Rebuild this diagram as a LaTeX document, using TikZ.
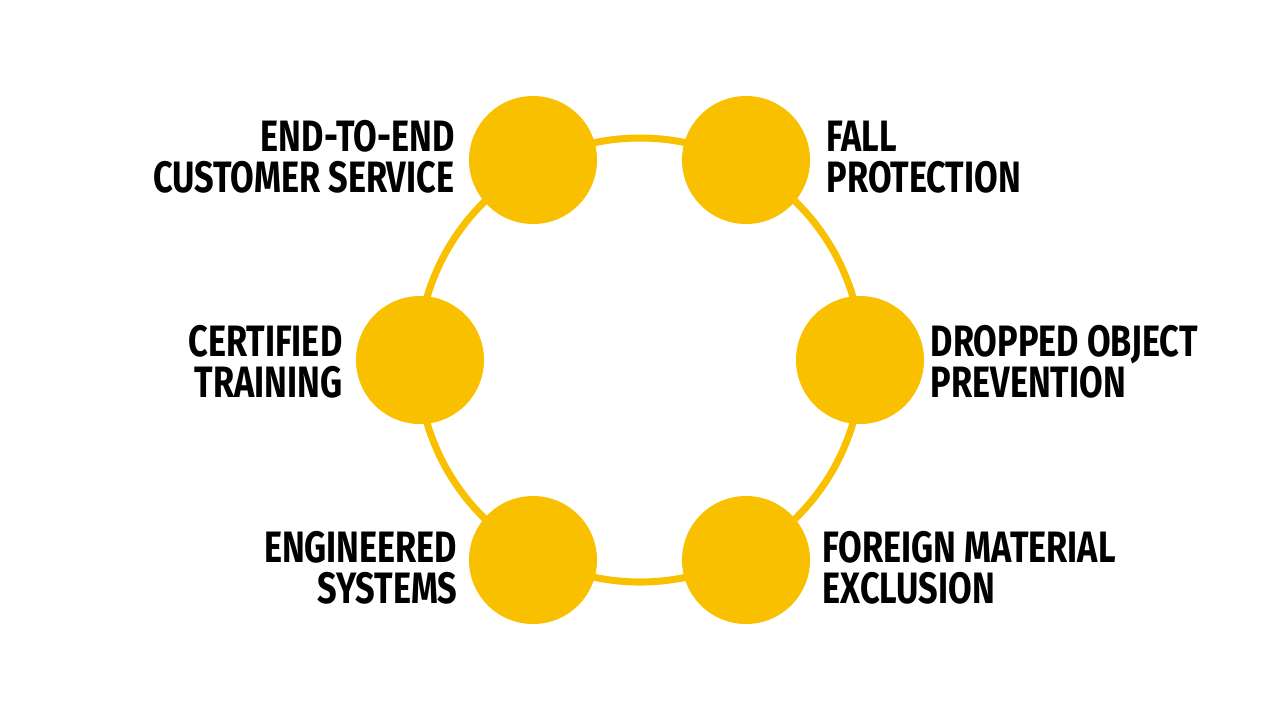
\documentclass[tikz,border=0pt]{standalone}
\usepackage{fontspec}
\setmainfont{Fira Sans}[UprightFont={* Bold},FakeStretch=0.78]
\definecolor{gold}{HTML}{F9C000}
\begin{document}
\begin{tikzpicture}[x=0.01cm,y=-0.01cm,
  dot/.style={circle,fill=gold,minimum size=128*0.01cm,inner sep=0pt},
  lab/.style={font=\fontsize{12.5}{11.6}\selectfont,inner sep=0pt,align=#1},
]
\useasboundingbox (0,0) rectangle (1280,720);
\draw[gold,line width=2pt] (640,360) circle (222*0.01cm);
\node[dot] (a) at (533,160) {};
\node[dot] (b) at (746,160) {};
\node[dot] (c) at (420,360) {};
\node[dot] (d) at (860,360) {};
\node[dot] (e) at (533,560) {};
\node[dot] (f) at (746,560) {};
\node[lab=right,anchor=east] (ta) at (455,157) {END-TO-END\\CUSTOMER SERVICE};
\node[lab=left,anchor=west] (tb) at (826,157) {FALL\\PROTECTION};
\node[lab=right,anchor=east] (tc) at (343,362) {CERTIFIED\\TRAINING};
\node[lab=left,anchor=west] (td) at (930,362) {DROPPED OBJECT\\PREVENTION};
\node[lab=right,anchor=east] (te) at (458,568) {ENGINEERED\\SYSTEMS};
\node[lab=left,anchor=west] (tf) at (822,568) {FOREIGN MATERIAL\\EXCLUSION};
\end{tikzpicture}
\end{document}
